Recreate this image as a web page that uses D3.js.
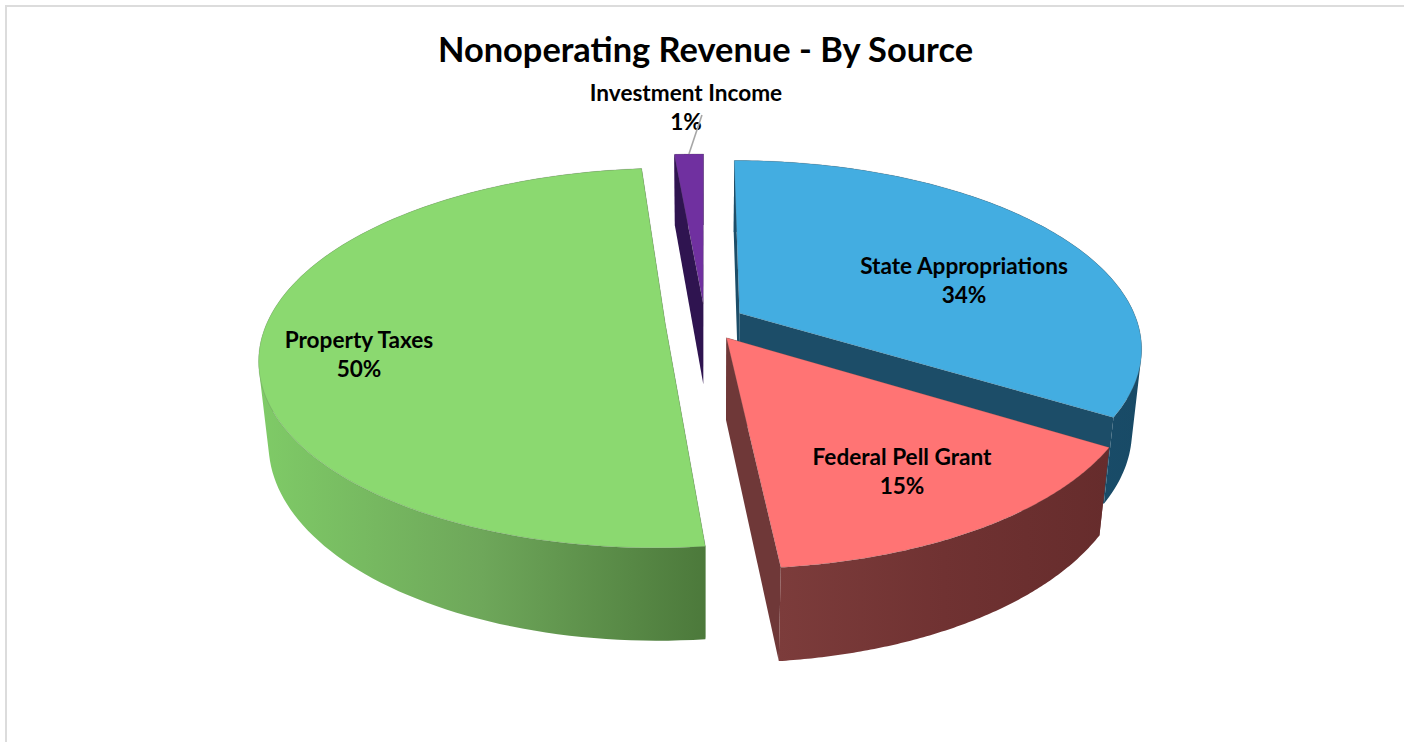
<!DOCTYPE html>
<html>
<head>
<meta charset="utf-8">
<script src="https://cdn.jsdelivr.net/npm/d3@7"></script>
<style>
  html, body { margin: 0; padding: 0; background: #fff; }
  svg { display: block; }
  text { font-family: Lato, "Open Sans", sans-serif; font-weight: 700; fill: #000; text-anchor: middle; }
</style>
</head>
<body>
<svg id="chart" width="1404" height="742"></svg>
<script>
// Revenue sources and their shares, in percent; labels show whole percents
const sources = ["State Appropriations", "Federal Pell Grant", "Property Taxes", "Investment Income"];
const shares = [33.8, 14.6, 50.2, 1.4];

// Slice styling, in the same order as the sources
const topColors = ["#43ade1", "#ff7474", "#8bd970", "#7030a0"];
const cutColors = ["#1c4d68", "#6f3838", "#4e7a3d", "#2f1450"];
const wallStops = [
  ["#1d5a7c", "#1c5270", "#184a66"],
  ["#7c3c3b", "#703232", "#662c2c"],
  ["#7fcb67", "#6ea75a", "#4c793b"],
  ["#5a2a80", "#4a2270", "#3a1a60"]
];

// Label anchors (centre x, first baseline y)
const labelAnchors = [[964, 274], [902, 465], [359, 348], [686, 101]];

// Drawing order: far slices first, near slices last
const paintOrder = [3, 0, 2, 1];

const title = "Nonoperating Revenue - By Source";

// Perspective camera for the tilted disc (unit radius)
const camera = { ox: 705, oy: 322, scale: 398, tilt: 0.46, persp: 0.18, depthW: 0.022, depthY: 83 };
const explode = 0.1;

// Projects a disc point (X right, Y away from viewer) at the top (z=0) or bottom (z=1) face
function project(X, Y, z) {
  const w = 1 + camera.persp * Y + camera.depthW * z;
  return [
    camera.ox + camera.scale * X / w,
    camera.oy + (-camera.scale * camera.tilt * Y + camera.depthY * z) / w
  ];
}

// Twice the signed area, used to give every wall quad the same winding
function signedArea(pts) {
  return d3.sum(pts, (p, k) => {
    const q = pts[(k + 1) % pts.length];
    return p[0] * q[1] - q[0] * p[1];
  });
}

const svg = d3.select("#chart");
const defs = svg.append("defs");
const line = d3.line();

// Chart frame: only the top and left edges fall inside the page
svg.append("path")
  .attr("d", "M6,742V6H1404")
  .attr("fill", "none")
  .attr("stroke", "#dcdcdc")
  .attr("stroke-width", 2);

const arcs = d3.pie().sort(null).value(d => d)(shares);

paintOrder.forEach(i => {
  const a = arcs[i];
  const mid = (a.startAngle + a.endAngle) / 2;
  const dx = explode * Math.sin(mid), dy = explode * Math.cos(mid);
  const disc = (r, t) => [dx + r * Math.sin(t), dy + r * Math.cos(t)];
  const steps = d3.range(0, 121).map(k => a.startAngle + (a.endAngle - a.startAngle) * k / 120);

  const rimTop = steps.map(t => project(...disc(1, t), 0));
  const rimBot = steps.map(t => project(...disc(1, t), 1));
  const apexTop = project(dx, dy, 0), apexBot = project(dx, dy, 1);
  const last = rimTop.length - 1;

  const xs = rimTop.concat(rimBot).map(p => p[0]);
  const gradId = "wall" + i;
  const grad = defs.append("linearGradient").attr("id", gradId)
    .attr("gradientUnits", "userSpaceOnUse")
    .attr("x1", d3.min(xs)).attr("x2", d3.max(xs)).attr("y1", 0).attr("y2", 0);
  wallStops[i].forEach((c, k) => grad.append("stop").attr("offset", k / 2).attr("stop-color", c));

  const g = svg.append("g").attr("class", "slice");

  // Curved wall as a union of quads, so the silhouette stays tangent to both rims
  const wallPath = keep => d3.range(last)
    .filter(k => keep(Math.cos(steps[k])))
    .map(k => {
      const q = [rimTop[k], rimTop[k + 1], rimBot[k + 1], rimBot[k]];
      return line(signedArea(q) < 0 ? q.reverse() : q) + "Z";
    }).join("");

  // Far side of the wall sits behind the cut faces, near side in front of them
  g.append("path").attr("d", wallPath(c => c > 0)).attr("fill", `url(#${gradId})`);

  [[rimTop[0], rimBot[0]], [rimTop[last], rimBot[last]]].forEach(([pt, pb]) => {
    g.append("path")
      .attr("d", line([apexTop, pt, pb, apexBot]) + "Z")
      .attr("fill", cutColors[i]);
  });

  g.append("path").attr("d", wallPath(c => c <= 0)).attr("fill", `url(#${gradId})`);

  // Top face
  g.append("path")
    .attr("d", line([apexTop].concat(rimTop)) + "Z")
    .attr("fill", topColors[i])
    .attr("stroke", "#5a5a5a")
    .attr("stroke-opacity", 0.35)
    .attr("stroke-width", 0.6);
});

// Title
svg.append("text").attr("x", 705.5).attr("y", 62).attr("font-size", 34.4).text(title);

// Data labels: name on the first line, share on the second
sources.forEach((name, i) => {
  const [x, y] = labelAnchors[i];
  svg.append("text").attr("x", x).attr("y", y).attr("font-size", 22.6).text(name);
  svg.append("text").attr("x", x).attr("y", y + 29).attr("font-size", 22.6).text(d3.format(".0f")(shares[i]) + "%");
});

// Leader line from the smallest slice up to its label
{
  const a = arcs[3];
  const mid = (a.startAngle + a.endAngle) / 2;
  const r = 1 + explode;
  const from = project(r * Math.sin(mid), r * Math.cos(mid), 0);
  svg.append("line")
    .attr("x1", from[0]).attr("y1", from[1])
    .attr("x2", from[0] + 13).attr("y2", from[1] - 39)
    .attr("stroke", "#a6a6a6").attr("stroke-width", 1.6);
}
</script>
</body>
</html>
